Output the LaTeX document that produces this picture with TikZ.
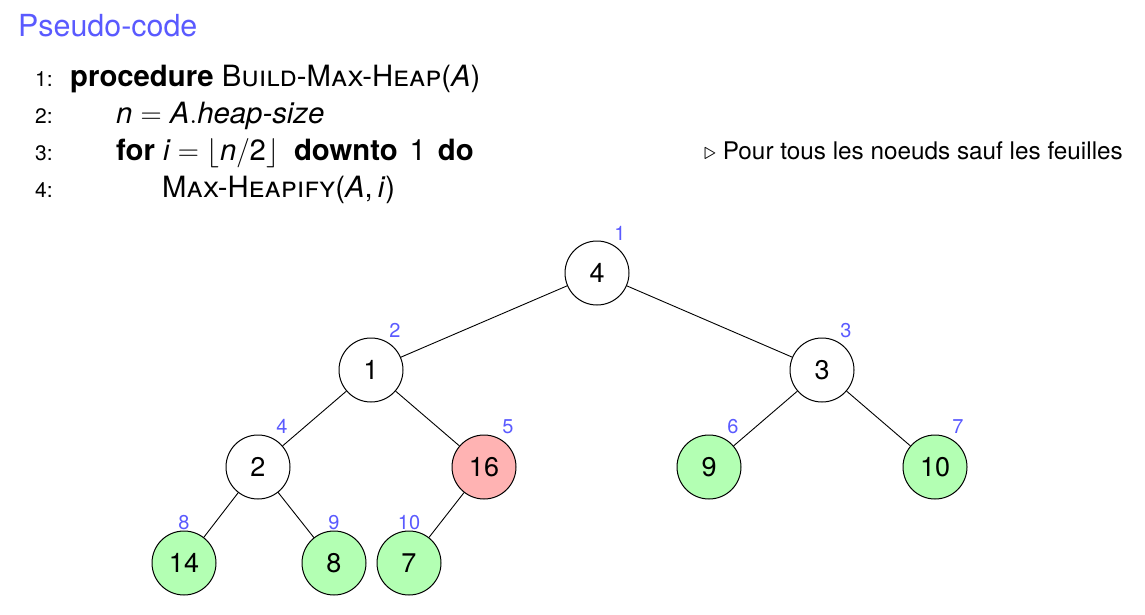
\RequirePackage{fix-cm}
\documentclass[tikz,border=0pt]{standalone}
\usepackage{amsmath}
\usepackage{fontspec}
\setmainfont{TeX Gyre Heros}
\definecolor{struct}{RGB}{90,90,255}
\definecolor{leafgreen}{RGB}{179,255,179}
\definecolor{hotred}{RGB}{255,179,179}
\newcommand{\mv}[1]{\textit{#1}}
\begin{document}
\begin{tikzpicture}[x=1pt,y=-1pt,
  hnode/.style={circle,draw,line width=1pt,minimum size=64pt,inner sep=0pt,font=\fontsize{27}{30}\selectfont,fill=white},
  leaf/.style={hnode,fill=leafgreen},
  hot/.style={hnode,fill=hotred},
  idx/.style={text=struct,font=\fontsize{20}{22}\selectfont,inner sep=0pt,anchor=base},
  edge/.style={line width=0.9pt},
  lno/.style={anchor=base west,inner sep=0pt,font=\fontsize{21}{24}\selectfont},
  code/.style={anchor=base west,inner sep=0pt,font=\fontsize{29.3}{32}\selectfont},
  comm/.style={anchor=base west,inner sep=0pt,font=\fontsize{24.3}{27}\selectfont}]
\useasboundingbox (0,0) rectangle (1145,615);
% title
\node[anchor=base west,inner sep=0pt,text=struct,font=\fontsize{30.4}{34}\selectfont] (title) at (18,37) {Pseudo-code};
% line numbers
\node[lno] (l1) at (35,87) {1:};
\node[lno] (l2) at (35,124) {2:};
\node[lno] (l3) at (35,160) {3:};
\node[lno] (l4) at (35,197) {4:};
% code
\node[code] (c1) at (70,87) {\textbf{procedure} \textsc{Build-Max-Heap}(\mv{A})};
\node[code] (c2) at (116,124) {$\mv{n} = \mv{A}.\mv{heap-size}$};
\node[code] (c3) at (116,160) {\textbf{for} $\mv{i} = \lfloor \mv{n}/\textup{2}\rfloor$\hspace{15pt}\textbf{downto}\hspace{12pt}1\hspace{12pt}\textbf{do}};
\node[code] (c4) at (162,197) {\textsc{Max-Heapify}(\mv{A},\hspace{5pt}\mv{i})};
\node[comm] (cm) at (704,159) {$\triangleright$ Pour tous les noeuds sauf les feuilles};
% tree
\node[hnode] (n1) at (597,273) {4};
\node[hnode] (n2) at (371,370) {1};
\node[hnode] (n3) at (822,370) {3};
\node[hnode] (n4) at (258,467) {2};
\node[hot] (n5) at (484,467) {16};
\node[leaf] (n6) at (709,467) {9};
\node[leaf] (n7) at (935,467) {10};
\node[leaf] (n8) at (184,563) {14};
\node[leaf] (n9) at (334,563) {8};
\node[leaf] (n10) at (409,563) {7};
\draw[edge] (n1) -- (n2);
\draw[edge] (n1) -- (n3);
\draw[edge] (n2) -- (n4);
\draw[edge] (n2) -- (n5);
\draw[edge] (n3) -- (n6);
\draw[edge] (n3) -- (n7);
\draw[edge] (n4) -- (n8);
\draw[edge] (n4) -- (n9);
\draw[edge] (n5) -- (n10);
% indices
\node[idx] (i1) at (620,240) {1};
\node[idx] (i2) at (395,337) {2};
\node[idx] (i3) at (846,337) {3};
\node[idx] (i4) at (282,433) {4};
\node[idx] (i5) at (508,433) {5};
\node[idx] (i6) at (733,433) {6};
\node[idx] (i7) at (958,433) {7};
\node[idx] (i8) at (184,529) {8};
\node[idx] (i9) at (334,529) {9};
\node[idx] (i10) at (409,529) {10};
\end{tikzpicture}
\end{document}
